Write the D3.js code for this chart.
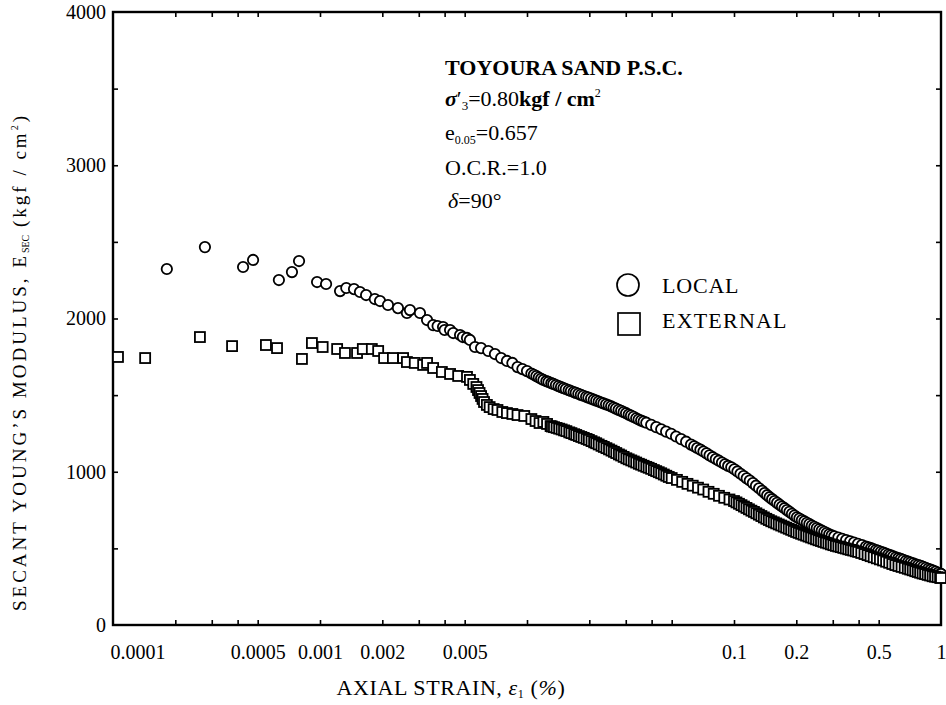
<!DOCTYPE html>
<html><head><meta charset="utf-8">
<script src="https://cdn.jsdelivr.net/npm/d3@7"></script>
<style>
body{margin:0;background:#fff}
svg text{font-family:"Liberation Serif","Times New Roman",serif;fill:#000}
</style>
</head><body>
<svg id="c" width="946" height="705"></svg>
<script>
// ---------- DATA ----------
const localStrain = [1.82e-4,2.78e-4,4.25e-4,4.75e-4,6.33e-4,7.32e-4,7.92e-4,9.68e-4,1.07e-3,1.25e-3,1.34e-3,1.46e-3,1.56e-3,1.67e-3,1.84e-3,1.95e-3,2.13e-3,2.38e-3,2.63e-3,2.72e-3,3.04e-3,3.29e-3,3.52e-3,3.7e-3,3.93e-3,4.0e-3,4.25e-3,4.4e-3,4.75e-3,4.9e-3,5.13e-3,5.3e-3,5.61e-3,
 0.006,0.0065,0.007,0.0075,0.008,0.0085,0.009,0.0095,0.01,
 0.0105,0.0108,0.0111,0.0114,0.0117,0.0120,0.0124,0.0127,0.0131,0.0134,0.0138,0.0142,0.0146,0.0150,0.0154,0.0159,0.0163,0.0168,0.0172,0.0177,0.0182,0.0187,0.0193,0.0198,0.0204,0.0210,0.0216,0.0222,0.0228,0.0234,0.0241,0.0248,0.0255,0.0262,0.0269,0.0277,0.0285,0.0293,0.0301,0.0310,0.0318,0.0327,0.0337,0.0346,0.0356,0.0366,
 0.0377,0.0398,0.0421,0.0445,0.0470,0.0497,0.0525,0.0555,0.0587,0.0620,
 0.0642,0.0664,0.0688,0.0712,0.0737,0.0762,0.0789,0.0817,0.0845,0.0875,0.0905,0.0937,0.0970,0.1004,0.1039,0.1075,0.1113,0.1152,0.1192,0.1234,0.1277,0.1322,0.1368,
 0.1406,0.1446,0.1486,0.1528,0.1571,0.1615,0.1660,0.1706,0.1754,0.1803,0.1854,0.1906,0.1959,0.2014,0.2070,0.2128,0.2188,0.2249,0.2312,0.2377,0.2443,0.2512,0.2582,0.2654,0.2729,0.2805,0.2884,0.2964,
 0.305,0.319,0.333,0.348,0.364,0.380,0.397,0.415,0.434,
 0.446,0.459,0.471,0.485,0.498,0.512,0.527,0.541,0.557,0.572,0.588,0.605,0.622,0.639,0.657,0.676,0.695,0.714,0.734,0.755,0.776,0.798,0.820,0.843,0.867,0.891,0.916,0.942,0.968,0.995,1.0];
const localModulus = [2323,2466,2336,2382,2251,2303,2375,2238,2225,2179,2199,2192,2173,2153,2127,2114,2088,2068,2036,2055,2036,1990,1957,1951,1944,1925,1925,1905,1892,1879,1873,1860,1814,
 1807,1788,1768,1742,1723,1710,1683,1670,1657,
 1641,1633,1624,1615,1607,1599,1591,1586,1578,1573,1566,1559,1552,1546,1540,1533,1527,1520,1515,1509,1502,1496,1489,1484,1477,1470,1464,1458,1452,1446,1440,1434,1427,1419,1412,1404,1397,1389,1382,1373,1366,1358,1349,1341,1334,1327,
 1320,1306,1291,1277,1262,1248,1230,1213,1196,1177,
 1166,1155,1144,1132,1120,1107,1095,1083,1072,1060,1049,1038,1029,1016,1002,987,972,957,943,926,909,892,875,
 861,847,834,821,809,797,785,773,762,750,738,726,714,703,694,685,676,667,658,649,640,632,624,616,608,600,592,585,
 578,570,562,554,546,538,530,521,512,
 507,501,495,489,484,478,472,466,460,454,448,442,436,431,425,418,413,407,402,396,391,386,380,373,367,361,355,348,341,334,333];

const externalStrain = [1.057e-4,1.43e-4,2.63e-4,3.76e-4,5.48e-4,6.20e-4,8.18e-4,9.14e-4,1.03e-3,1.21e-3,1.32e-3,1.51e-3,1.61e-3,1.78e-3,1.91e-3,2.04e-3,2.25e-3,2.52e-3,2.63e-3,2.87e-3,3.15e-3,3.29e-3,3.52e-3,3.88e-3,4.25e-3,4.65e-3,5.13e-3,5.3e-3,5.5e-3,5.7e-3,5.8e-3,5.9e-3,6.0e-3,6.1e-3,6.2e-3,6.4e-3,
 6.6e-3,6.9e-3,7.2e-3,7.6e-3,8.0e-3,8.5e-3,9.0e-3,9.7e-3,0.0105,0.011,0.0115,0.012,0.0125,0.013,
 0.0132,0.0135,0.0139,0.0143,0.0147,0.0151,0.0155,0.0160,0.0164,0.0169,0.0173,0.0178,0.0183,0.0188,0.0194,0.0199,0.0205,0.0211,0.0216,0.0222,0.0229,0.0235,0.0242,0.0249,0.0256,0.0263,0.0270,0.0278,0.0285,0.0293,0.0302,0.0310,0.0319,0.0328,0.0337,0.0347,0.0356,0.0366,0.0377,0.0387,0.0398,0.0410,0.0421,0.0433,0.0445,0.0458,0.0471,0.0484,
 0.0500,0.0530,0.0562,0.0596,0.0632,0.0670,0.0710,0.0753,0.0798,0.0846,0.0897,0.0951,
 0.1000,0.1028,0.1057,0.1087,0.1117,0.1149,0.1181,0.1214,0.1248,0.1283,0.1319,0.1356,0.1394,0.1433,0.1473,0.1514,0.1557,0.1600,0.1645,0.1691,0.1739,0.1787,0.1838,0.1889,0.1942,0.1996,0.2052,0.2110,0.2169,0.2230,0.2292,0.2356,0.2422,0.2490,0.2560,0.2632,0.2705,0.2781,0.2859,0.2939,0.3021,0.3106,0.3193,0.3282,0.3374,0.3469,0.3566,0.3666,0.3768,0.3874,
 0.398,0.412,0.427,0.442,0.457,0.473,0.490,0.507,0.525,0.543,0.562,0.582,0.602,0.623,0.645,0.668,0.691,
 0.710,0.730,0.751,0.772,0.793,0.815,0.838,0.862,0.886,0.911,0.936,0.963,0.990,1.0];
const externalModulus = [1749,1742,1879,1820,1827,1807,1736,1840,1814,1801,1775,1775,1801,1801,1788,1742,1742,1742,1716,1710,1697,1710,1677,1651,1638,1625,1619,1599,1573,1553,1533,1514,1494,1475,1455,1436,
 1422,1409,1403,1390,1383,1377,1370,1364,1344,1331,1318,1325,1312,1298,
 1295,1291,1286,1281,1276,1270,1265,1257,1252,1245,1240,1233,1227,1221,1214,1208,1200,1192,1186,1178,1169,1162,1154,1146,1138,1130,1122,1113,1106,1097,1088,1081,1074,1067,1060,1052,1046,1039,1032,1026,1019,1011,1004,997,990,982,974,966,
 959,947,934,921,909,896,884,869,856,843,830,819,
 809,800,791,782,773,764,755,746,738,729,720,711,702,693,685,677,670,663,656,649,642,635,628,621,614,607,601,595,589,583,577,571,565,559,553,548,542,537,532,526,521,516,512,508,503,499,494,490,486,481,
 477,470,463,456,449,442,435,428,421,413,406,398,391,385,379,373,367,
 362,357,351,346,341,336,332,327,323,318,315,312,308,307];

const xTickValues = [2e-4,3e-4,4e-4,5e-4,1e-3,2e-3,3e-3,4e-3,5e-3,1e-2,2e-2,3e-2,4e-2,5e-2,0.1,0.2,0.3,0.4,0.5];
const xLabelValues = [1e-4,5e-4,1e-3,2e-3,5e-3,0.1,0.2,0.5,1];
const xLabelText = ["0.0001","0.0005","0.001","0.002","0.005","0.1","0.2","0.5","1"];
const yTickValues = [500,1000,1500,2000,2500,3000,3500];
const yLabelValues = [0,1000,2000,3000,4000];

// ---------- CHART ----------
const svg = d3.select("#c");
const X0 = 113, X1 = 941, Y0 = 625, Y1 = 12;
const x = d3.scaleLog().domain([1e-4, 1]).range([X0, X1]);
const y = d3.scaleLinear().domain([0, 4000]).range([Y0, Y1]);
const SERIF = '"Liberation Serif","Times New Roman",serif';

function cleanTicks(g){ g.select(".domain").remove(); g.selectAll("line").attr("stroke","#000").attr("stroke-width",1.6); }

svg.append("g").attr("transform",`translate(0,${Y0})`)
  .call(d3.axisBottom(x).tickValues(xTickValues).tickSize(-5).tickFormat("")).call(cleanTicks);
svg.append("g").attr("transform",`translate(0,${Y1})`)
  .call(d3.axisTop(x).tickValues(xTickValues).tickSize(-5).tickFormat("")).call(cleanTicks);
svg.append("g").attr("transform",`translate(${X0},0)`)
  .call(d3.axisLeft(y).tickValues(yTickValues).tickSize(-5).tickFormat("")).call(cleanTicks);
svg.append("g").attr("transform",`translate(${X1},0)`)
  .call(d3.axisRight(y).tickValues(yTickValues).tickSize(-5).tickFormat("")).call(cleanTicks);

// x labels
const xl = svg.append("g").attr("transform",`translate(0,${Y0})`)
  .call(d3.axisBottom(x).tickValues(xLabelValues).tickSize(0).tickPadding(20).tickFormat((d,i)=>xLabelText[i]));
xl.select(".domain").remove();
xl.selectAll("text").attr("font-size",20).attr("font-family",SERIF);
xl.selectAll("text").filter((d,i)=>i===0).attr("text-anchor","start").attr("dx",-3);

// y labels
const yl = svg.append("g").attr("transform",`translate(${X0},0)`)
  .call(d3.axisLeft(y).tickValues(yLabelValues).tickSize(0).tickPadding(7).tickFormat(d3.format("d")));
yl.select(".domain").remove();
yl.selectAll("text").attr("font-size",20).attr("font-family",SERIF);

// frame
svg.append("rect").attr("x",X0).attr("y",Y1).attr("width",X1-X0).attr("height",Y0-Y1)
  .attr("fill","none").attr("stroke","#000").attr("stroke-width",2.4);

// data
const local = localStrain.map((s,i)=>({s, e: localModulus[i]}));
const external = externalStrain.map((s,i)=>({s, e: externalModulus[i]}));

svg.append("g").selectAll("circle").data(local).join("circle")
  .attr("cx",d=>x(d.s)).attr("cy",d=>y(d.e)).attr("r",5.2)
  .attr("fill","#fff").attr("stroke","#000").attr("stroke-width",1.8);

svg.append("g").selectAll("rect").data(external).join("rect")
  .attr("x",d=>x(d.s)-5).attr("y",d=>y(d.e)-5).attr("width",10).attr("height",10)
  .attr("fill","#fff").attr("stroke","#000").attr("stroke-width",1.8);

// legend
svg.append("circle").attr("cx",628).attr("cy",285).attr("r",11)
  .attr("fill","#fff").attr("stroke","#000").attr("stroke-width",1.7);
svg.append("rect").attr("x",618).attr("y",313).attr("width",22).attr("height",22)
  .attr("fill","#fff").attr("stroke","#000").attr("stroke-width",1.7);
svg.append("text").attr("x",662).attr("y",293).attr("font-size",22).attr("letter-spacing",0.8).text("LOCAL");
svg.append("text").attr("x",662).attr("y",328).attr("font-size",22).attr("letter-spacing",1.2).text("EXTERNAL");

// annotation
const ann = svg.append("g").attr("font-size",22);
const ax = 445;
ann.append("text").attr("x",ax).attr("y",75).attr("font-weight","bold").text("TOYOURA SAND P.S.C.");
const l2 = ann.append("text").attr("x",ax).attr("y",106);
l2.append("tspan").attr("font-weight","bold").attr("font-style","italic").text("σ");
l2.append("tspan").text("′");
l2.append("tspan").attr("font-size",13).attr("dy",4).text("3");
l2.append("tspan").attr("dy",-4).text("=0.80");
l2.append("tspan").attr("font-weight","bold").text("kgf / cm");
l2.append("tspan").attr("font-size",12).attr("dy",-9).text("2");
const l3 = ann.append("text").attr("x",ax).attr("y",140);
l3.append("tspan").text("e");
l3.append("tspan").attr("font-size",12).attr("dy",4).text("0.05");
l3.append("tspan").attr("dy",-4).text("=0.657");
ann.append("text").attr("x",ax).attr("y",175).text("O.C.R.=1.0");
const l5 = ann.append("text").attr("x",ax+3).attr("y",208);
l5.append("tspan").attr("font-style","italic").text("δ");
l5.append("tspan").text("=90°");

// axis titles
const xt = svg.append("text").attr("x",451).attr("y",695).attr("text-anchor","middle")
  .attr("font-size",22).attr("letter-spacing",0.6);
xt.append("tspan").text("AXIAL STRAIN, ");
xt.append("tspan").attr("font-style","italic").text("ε");
xt.append("tspan").attr("font-size",12).attr("dy",3).text("1");
xt.append("tspan").attr("dy",-3).text(" (");
xt.append("tspan").attr("font-style","italic").text("%");
xt.append("tspan").text(")");

const yt = svg.append("text").attr("transform","translate(26,362) rotate(-90)")
  .attr("text-anchor","middle").attr("font-size",19).attr("letter-spacing",3);
yt.append("tspan").text("SECANT YOUNG’S MODULUS, E");
yt.append("tspan").attr("font-size",10).attr("dy",3).attr("letter-spacing",0).text("SEC");
yt.append("tspan").attr("dy",-3).text(" (kgf / cm");
yt.append("tspan").attr("font-size",10).attr("dy",-8).text("2");
yt.append("tspan").attr("dy",8).text(")");
</script>
</body></html>
